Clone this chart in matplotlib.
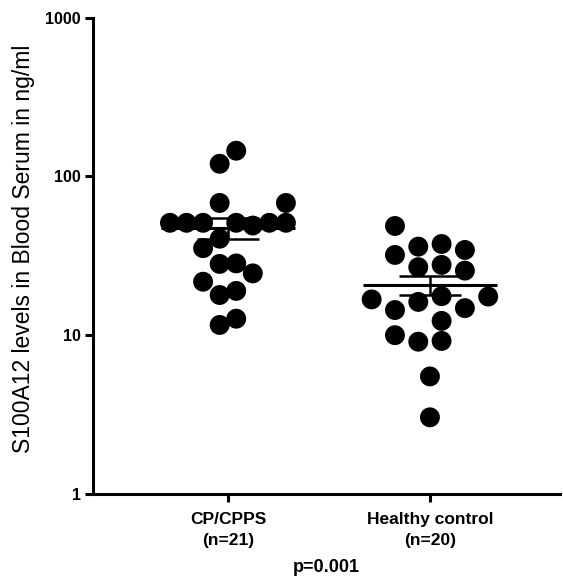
import numpy as np
import matplotlib
matplotlib.use("Agg")
import matplotlib.pyplot as plt

# S100A12 serum levels (ng/ml)
groups = ["CP/CPPS\n(n=21)", "Healthy control\n(n=20)"]
cp_values = [145, 120, 68, 68, 51, 51, 51, 51, 49, 51, 51,
             40.5, 35.3, 28.1, 28.3, 24.5, 21.7, 17.9, 19.0, 11.6, 12.7]
cp_slots = [1, -1, -1, 7, -7, -5, -3, 1, 3, 5, 7,
            -1, -3, -1, 1, 3, -3, -1, 1, -1, 1]
hc_values = [48.7, 36.1, 37.5, 34.4, 32.0, 26.8, 27.7, 25.5, 16.8, 14.4,
             16.2, 17.6, 14.8, 17.5, 12.3, 10.0, 9.1, 9.2, 5.5, 3.04]
hc_slots = [-3, -1, 1, 3, -3, -1, 1, 3, -5, -3,
            -1, 1, 3, 5, 1, -3, -1, 1, 0, 0]
yticks = [1, 10, 100, 1000]
p_text = "p=0.001"

plt.rcParams['font.family'] = ['Liberation Sans', 'DejaVu Sans']

fig = plt.figure(figsize=(5.63, 5.78), dpi=100)
ax = fig.add_axes([0.1652, 0.1453, 0.8295, 0.8244])

data = [(cp_values, cp_slots, 0.041), (hc_values, hc_slots, 0.0577)]
for i, (vals, slots, step) in enumerate(data):
    vals = np.array(vals)
    xs = i + np.array(slots) * step
    ax.scatter(xs, vals, s=205, color='black', edgecolors='none', zorder=2)

    # mean +/- SEM
    m = vals.mean()
    sem = vals.std(ddof=1) / np.sqrt(len(vals))
    ax.hlines(m, i - 0.33, i + 0.33, color='black', lw=2.2, zorder=3)
    ax.hlines([m - sem, m + sem], i - 0.155, i + 0.155, color='black', lw=1.8, zorder=3)
    ax.vlines(i, m - sem, m + sem, color='black', lw=1.8, zorder=3)

ax.set_yscale('log')
ax.set_ylim(1, 1000)
ax.set_xlim(-0.668, 1.644)
ax.set_yticks(yticks)
ax.set_yticklabels([str(t) for t in yticks], fontweight='bold', fontsize=11.5)
ax.yaxis.set_minor_locator(matplotlib.ticker.NullLocator())
ax.set_xticks([0, 1])
ax.set_xticklabels(groups, fontweight='bold', fontsize=12.5, linespacing=1.5)

for side in ['top', 'right']:
    ax.spines[side].set_visible(False)
for side in ['left', 'bottom']:
    ax.spines[side].set_linewidth(2.2)
ax.tick_params(axis='both', width=2.2, length=6)
ax.tick_params(axis='y', pad=3)
ax.tick_params(axis='x', pad=7)

ax.set_ylabel("S100A12 levels in Blood Serum in ng/ml", fontsize=16.5)
ax.yaxis.set_label_coords(-0.125, 0.515)
ax.set_xlabel(p_text, fontweight='bold', fontsize=13, labelpad=8)

fig.savefig("out.png", dpi=100)
